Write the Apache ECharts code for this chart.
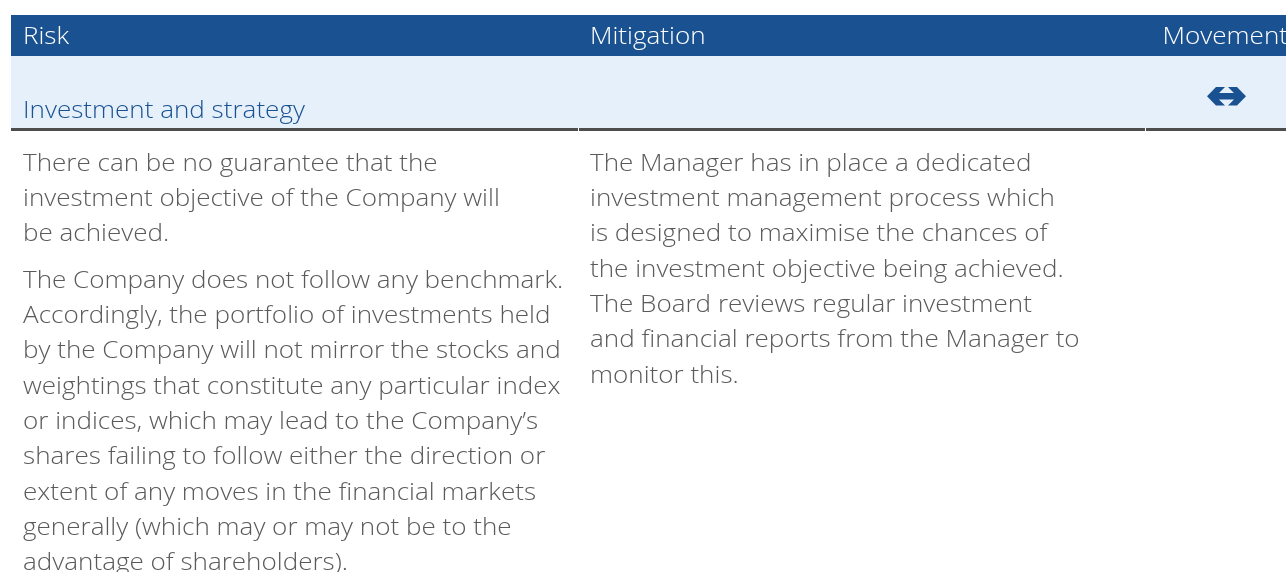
<!DOCTYPE html>
<html>
<head>
<meta charset="utf-8">
<script src="https://cdn.jsdelivr.net/npm/echarts@6/dist/echarts.min.js"></script>
<style>
  html, body { margin: 0; padding: 0; background: #fff; }
  #chart { width: 1286px; height: 572px; }
</style>
</head>
<body>
<div id="chart"></div>
<script>
// column headers
const headers = ['Risk', 'Mitigation', 'Movement']
const rowTitle = 'Investment and strategy'
// risk column, split into paragraphs of lines
const riskParas = [
  [
    'There can be no guarantee that the',
    'investment objective of the Company will',
    'be achieved.'
  ],
  [
    'The Company does not follow any benchmark.',
    'Accordingly, the portfolio of investments held',
    'by the Company will not mirror the stocks and',
    'weightings that constitute any particular index',
    'or indices, which may lead to the Company\u2019s',
    'shares failing to follow either the direction or',
    'extent of any moves in the financial markets',
    'generally (which may or may not be to the',
    'advantage of shareholders).'
  ]
]
const mitigationLines = [
  'The Manager has in place a dedicated',
  'investment management process which',
  'is designed to maximise the chances of',
  'the investment objective being achieved.',
  'The Board reviews regular investment',
  'and financial reports from the Manager to',
  'monitor this.'
]

const FONT = '"Open Sans", "Liberation Sans", sans-serif'
const BLUE = '#1a5190'
const BODY = '#5a5a5a'
const SIZE = 24
const STRETCH = 1.085 // the original face is wider than Open Sans
const LINE_H = 35.3

const chart = echarts.init(document.getElementById('chart'))

function textEl(x, y, str, color, align) {
  return {
    type: 'text',
    x: x,
    y: y,
    scaleX: STRETCH,
    style: {
      text: str,
      fill: color,
      font: '300 ' + SIZE + 'px ' + FONT,
      align: align || 'left',
      verticalAlign: 'middle'
    }
  }
}

const els = []
// header band
els.push({ type: 'rect', shape: { x: 11, y: 15, width: 1275, height: 41 }, style: { fill: BLUE } })
// light row band
els.push({ type: 'rect', shape: { x: 11, y: 56, width: 1275, height: 72 }, style: { fill: '#e5f0fb' } })
// bottom rule, with hairline gaps at column edges
els.push({ type: 'rect', shape: { x: 11, y: 128, width: 567, height: 3 }, style: { fill: '#4d4d4d' } })
els.push({ type: 'rect', shape: { x: 579, y: 128, width: 566, height: 3 }, style: { fill: '#4d4d4d' } })
els.push({ type: 'rect', shape: { x: 1146, y: 128, width: 140, height: 3 }, style: { fill: '#4d4d4d' } })

els.push(textEl(23, 37.5, headers[0], '#fff'))
els.push(textEl(590, 37.5, headers[1], '#fff'))
els.push(textEl(1288, 37.5, headers[2], '#fff', 'right'))
els.push(textEl(23, 111, rowTitle, BLUE))

// movement arrow (double headed, unchanged)
els.push({
  type: 'polygon',
  shape: {
    points: [
      [1207, 96.25], [1216, 87], [1225, 87], [1219, 93], [1234, 93], [1228, 87], [1237, 87],
      [1246, 96.25], [1237, 105.5], [1228, 105.5], [1234, 99.5], [1219, 99.5], [1225, 105.5], [1216, 105.5]
    ]
  },
  style: { fill: BLUE }
})

let y = 164
riskParas.forEach(function (para, i) {
  if (i > 0) y += 11
  para.forEach(function (line) {
    els.push(textEl(23, y, line, BODY))
    y += LINE_H
  })
})
mitigationLines.forEach(function (line, i) {
  els.push(textEl(590, 164 + i * LINE_H, line, BODY))
})

chart.setOption({
  animation: false,
  graphic: { elements: els }
})
</script>
</body>
</html>
